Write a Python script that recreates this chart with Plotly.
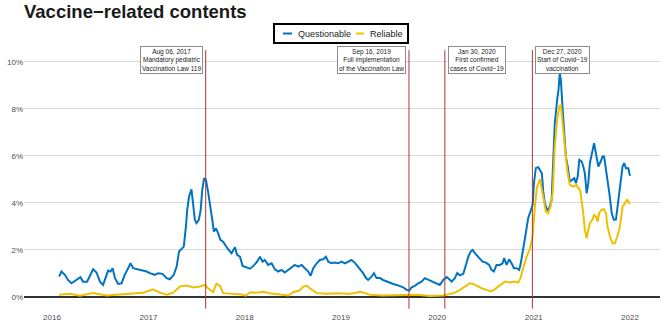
import plotly.graph_objects as go

# Questionable sources, share of contents (%)
q_dates = [
    "2016-01-28", "2016-02-06", "2016-02-19", "2016-03-02", "2016-03-15", "2016-04-03", "2016-04-18",
    "2016-04-28", "2016-05-13", "2016-05-26", "2016-06-05", "2016-06-18", "2016-07-01", "2016-07-13",
    "2016-07-23", "2016-08-01", "2016-08-10", "2016-08-18", "2016-08-27", "2016-09-08", "2016-09-21",
    "2016-10-03", "2016-10-16", "2016-10-25", "2016-11-04", "2016-11-19", "2016-12-06", "2016-12-25",
    "2017-01-06", "2017-01-25", "2017-02-07", "2017-02-23", "2017-03-11", "2017-03-23", "2017-04-07",
    "2017-04-18", "2017-04-27", "2017-05-06", "2017-05-15", "2017-05-23", "2017-05-28", "2017-06-04",
    "2017-06-13", "2017-06-19", "2017-06-26", "2017-07-02", "2017-07-11", "2017-07-18", "2017-07-24",
    "2017-07-31", "2017-08-07", "2017-08-15", "2017-08-22", "2017-08-31", "2017-09-06", "2017-09-14",
    "2017-09-22", "2017-10-01", "2017-10-11", "2017-10-22", "2017-10-30", "2017-11-12", "2017-11-25",
    "2017-12-03", "2017-12-14", "2017-12-24", "2018-01-08", "2018-01-21", "2018-02-05", "2018-02-17",
    "2018-02-28", "2018-03-10", "2018-03-18", "2018-03-31", "2018-04-13", "2018-04-25", "2018-05-08",
    "2018-05-21", "2018-06-02", "2018-06-15", "2018-06-28", "2018-07-10", "2018-07-23", "2018-08-05",
    "2018-08-17", "2018-08-30", "2018-09-08", "2018-09-18", "2018-10-01", "2018-10-13", "2018-10-26",
    "2018-11-05", "2018-11-14", "2018-11-26", "2018-12-09", "2018-12-22", "2019-01-03", "2019-01-16",
    "2019-01-29", "2019-02-10", "2019-02-23", "2019-03-07", "2019-03-14", "2019-03-26", "2019-04-06",
    "2019-04-14", "2019-04-27", "2019-05-06", "2019-05-16", "2019-05-29", "2019-06-10", "2019-06-23",
    "2019-07-06", "2019-07-18", "2019-07-31", "2019-08-13", "2019-08-25", "2019-09-07", "2019-09-17",
    "2019-09-26", "2019-10-08", "2019-10-21", "2019-11-03", "2019-11-15", "2019-11-24", "2019-12-04",
    "2019-12-17", "2019-12-30", "2020-01-11", "2020-01-24", "2020-02-06", "2020-02-16", "2020-02-25",
    "2020-03-08", "2020-03-17", "2020-03-27", "2020-04-09", "2020-04-19", "2020-04-28", "2020-05-07",
    "2020-05-14", "2020-05-23", "2020-06-01", "2020-06-11", "2020-06-21", "2020-07-04", "2020-07-16",
    "2020-07-25", "2020-08-03", "2020-08-13", "2020-08-26", "2020-09-05", "2020-09-11", "2020-09-20",
    "2020-09-30", "2020-10-09", "2020-10-18", "2020-10-28", "2020-11-07", "2020-11-13", "2020-11-22",
    "2020-12-02", "2020-12-11", "2020-12-20", "2020-12-28", "2021-01-02", "2021-01-09", "2021-01-18",
    "2021-01-27", "2021-02-01", "2021-02-06", "2021-02-12", "2021-02-21", "2021-03-01", "2021-03-10",
    "2021-03-16", "2021-03-22", "2021-03-31", "2021-04-05", "2021-04-10", "2021-04-14", "2021-04-21",
    "2021-04-27", "2021-05-03", "2021-05-10", "2021-05-18", "2021-05-27", "2021-06-04", "2021-06-10",
    "2021-06-17", "2021-06-23", "2021-07-02", "2021-07-08", "2021-07-14", "2021-07-21", "2021-07-27",
    "2021-08-02", "2021-08-11", "2021-08-18", "2021-08-25", "2021-09-03", "2021-09-12", "2021-09-19",
    "2021-09-25", "2021-10-05", "2021-10-15", "2021-10-24", "2021-11-01", "2021-11-09", "2021-11-15",
    "2021-11-24", "2021-12-04", "2021-12-10", "2021-12-17", "2021-12-26", "2022-01-01",
]
q_vals = [
    0.86, 1.08, 0.94, 0.72, 0.58, 0.72, 0.84,
    0.65, 0.65, 0.94, 1.18, 1.04, 0.65, 0.51,
    0.80, 1.12, 1.08, 1.22, 0.80, 0.55, 0.58,
    0.94, 1.22, 1.43, 1.22, 1.18, 1.15, 1.08,
    1.01, 0.94, 1.01, 0.98, 0.80, 0.75, 0.94,
    1.29, 1.93, 2.03, 2.14, 2.99, 3.70, 4.27,
    4.58, 3.99, 3.28, 3.14, 3.28, 3.70, 4.55,
    5.05, 4.98, 4.48, 3.84, 3.28, 2.78, 2.92,
    2.71, 2.43, 2.35, 2.14, 2.03, 1.86, 2.11,
    1.79, 1.71, 1.32, 1.26, 1.20, 1.34, 1.50,
    1.71, 1.50, 1.57, 1.36, 1.43, 1.18, 1.08,
    1.15, 1.04, 1.15, 1.22, 1.36, 1.29, 1.36,
    1.22, 1.08, 0.90, 1.22, 1.43, 1.57, 1.60,
    1.71, 1.50, 1.43, 1.46, 1.43, 1.50, 1.43,
    1.50, 1.57, 1.45, 1.29, 1.18, 1.01, 0.80,
    0.72, 0.86, 1.01, 0.80, 0.80, 0.72, 0.65,
    0.58, 0.55, 0.51, 0.47, 0.41, 0.30, 0.27,
    0.41, 0.47, 0.58, 0.65, 0.80, 0.75, 0.72,
    0.65, 0.55, 0.51, 0.72, 0.84, 0.75, 0.65,
    0.80, 1.01, 0.92, 0.98, 1.36, 1.71, 1.93,
    2.00, 1.86, 1.74, 1.60, 1.50, 1.46, 1.36,
    1.15, 1.08, 1.36, 1.36, 1.43, 1.65, 1.36,
    1.60, 1.43, 1.22, 1.22, 1.15, 1.43, 2.14,
    2.71, 3.35, 3.63, 3.91, 4.84, 5.48, 5.52,
    5.33, 5.26, 4.50, 3.99, 3.70, 3.77, 4.13,
    5.55, 7.39, 8.38, 8.81, 9.52, 9.23, 7.96,
    6.97, 5.97, 5.55, 4.91, 4.98, 5.05, 4.84,
    5.12, 5.83, 5.76, 5.55, 5.26, 4.41, 4.84,
    5.69, 6.11, 6.54, 6.11, 5.55, 5.76, 5.97,
    5.97, 5.26, 4.41, 3.56, 3.28, 3.30, 3.84,
    4.69, 5.55, 5.69, 5.48, 5.48, 5.15,
]

# Reliable sources, share of contents (%)
r_dates = [
    "2016-01-28", "2016-03-09", "2016-04-16", "2016-06-05", "2016-07-26", "2016-09-14", "2016-11-04",
    "2016-12-12", "2017-01-19", "2017-02-13", "2017-03-11", "2017-04-05", "2017-04-30", "2017-05-25",
    "2017-06-20", "2017-07-15", "2017-08-03", "2017-08-15", "2017-09-03", "2017-09-16", "2017-09-29",
    "2017-10-11", "2017-11-18", "2017-12-20", "2018-01-05", "2018-01-21", "2018-02-15", "2018-03-12",
    "2018-04-06", "2018-05-02", "2018-05-27", "2018-06-15", "2018-07-04", "2018-07-29", "2018-08-11",
    "2018-08-24", "2018-09-05", "2018-10-01", "2018-11-07", "2018-12-15", "2019-01-22", "2019-02-04",
    "2019-03-01", "2019-03-14", "2019-04-02", "2019-04-21", "2019-06-09", "2019-08-13", "2019-10-15",
    "2019-12-04", "2020-01-24", "2020-02-18", "2020-03-08", "2020-03-27", "2020-04-15", "2020-05-04",
    "2020-05-17", "2020-05-30", "2020-06-17", "2020-07-06", "2020-07-22", "2020-08-07", "2020-08-26",
    "2020-09-14", "2020-10-03", "2020-10-22", "2020-11-03", "2020-11-12", "2020-11-22", "2020-12-05",
    "2020-12-18", "2020-12-28", "2021-01-06", "2021-01-14", "2021-01-25", "2021-02-01", "2021-02-09",
    "2021-02-16", "2021-02-25", "2021-03-06", "2021-03-14", "2021-03-22", "2021-03-31", "2021-04-08",
    "2021-04-14", "2021-04-21", "2021-04-30", "2021-05-08", "2021-05-18", "2021-05-31", "2021-06-13",
    "2021-06-19", "2021-06-26", "2021-07-02", "2021-07-08", "2021-07-14", "2021-07-21", "2021-07-27",
    "2021-08-02", "2021-08-11", "2021-08-18", "2021-08-25", "2021-09-01", "2021-09-06", "2021-09-15",
    "2021-09-24", "2021-10-02", "2021-10-08", "2021-10-17", "2021-10-27", "2021-11-05", "2021-11-14",
    "2021-11-24", "2021-12-04", "2021-12-13", "2021-12-22", "2022-01-01",
]
r_vals = [
    0.09, 0.13, 0.05, 0.17, 0.06, 0.09, 0.14,
    0.18, 0.32, 0.18, 0.09, 0.18, 0.44, 0.48,
    0.40, 0.44, 0.52, 0.37, 0.20, 0.56, 0.47,
    0.16, 0.13, 0.10, 0.05, 0.20, 0.18, 0.22,
    0.16, 0.12, 0.09, 0.06, 0.20, 0.28, 0.44,
    0.48, 0.37, 0.16, 0.13, 0.16, 0.13, 0.13,
    0.18, 0.23, 0.16, 0.09, 0.06, 0.06, 0.09,
    0.04, 0.06, 0.13, 0.18, 0.30, 0.44, 0.58,
    0.55, 0.47, 0.37, 0.30, 0.23, 0.33, 0.51,
    0.65, 0.61, 0.65, 0.61, 0.80, 1.22, 1.71,
    2.07, 2.57, 3.90, 4.70, 5.01, 4.55, 3.99,
    3.63, 3.56, 3.84, 4.41, 6.40, 7.53, 8.10,
    8.17, 7.39, 6.26, 5.40, 4.77, 4.69, 4.77,
    4.62, 4.55, 4.13, 3.56, 2.85, 2.50, 2.85,
    3.14, 3.28, 3.49, 3.42, 3.20, 3.56, 3.70,
    3.73, 3.56, 2.99, 2.57, 2.28, 2.28, 2.57,
    2.99, 3.84, 3.99, 4.13, 3.96,
]

event_dates = ["2017-08-06", "2019-09-16", "2020-01-30", "2020-12-27"]
event_labels = [
    "Aug 06, 2017<br>Mandatory pediatric<br>Vaccination Law 119",
    "Sep 16, 2019<br>Full implementation<br>of the Vaccination Law",
    "Jan 30, 2020<br>First confirmed<br>cases of Covid\u221219",
    "Dec 27, 2020<br>Start of Covid\u221219<br>vaccination",
]
event_side = ["right", "right", "left", "left"]

year_ticks = ["2016-01-01", "2017-01-01", "2018-01-01", "2019-01-01",
              "2020-01-01", "2021-01-01", "2022-01-01"]
year_labels = ["2016", "2017", "2018", "2019", "2020", "2021", "2022"]
pct_ticks = [0, 2, 4, 6, 8, 10]
pct_labels = ["0%", "2%", "4%", "6%", "8%", "10%"]

series_names = ["Questionable", "Reliable"]
series_colors = ["#0073C2", "#EFC000"]

FONT = "Liberation Sans, Arial, sans-serif"

fig = go.Figure()
fig.add_trace(go.Scatter(x=q_dates, y=q_vals, mode="lines", name=series_names[0],
                         line=dict(color=series_colors[0], width=2)))
fig.add_trace(go.Scatter(x=r_dates, y=r_vals, mode="lines", name=series_names[1],
                         line=dict(color=series_colors[1], width=2)))

for d, lab, side in zip(event_dates, event_labels, event_side):
    fig.add_shape(type="line", x0=d, x1=d, y0=-0.5, y1=10.5, xref="x", yref="y",
                  line=dict(color="#b03535", width=1), layer="above")
    fig.add_annotation(x=d, y=1, xref="x", yref="paper", text=lab, showarrow=False,
                       xanchor="right" if side == "right" else "left", yanchor="top",
                       xshift=-3 if side == "right" else 3, yshift=-1,
                       font=dict(family=FONT, size=6.5, color="#222"),
                       bgcolor="white", bordercolor="#8c8c8c", borderwidth=1, borderpad=1)

# hand-made legend box above the plot (plotly's own legend is too wide)
fig.add_shape(type="rect", xref="paper", yref="paper", x0=0.3931, x1=0.6038, y0=1.0075, y1=1.0789,
              line=dict(color="black", width=2), fillcolor="white", layer="above")
leg_x = [(0.4072, 0.4214, 0.4277), (0.5220, 0.5346, 0.5409)]
for (a, b, t), name, col in zip(leg_x, series_names, series_colors):
    fig.add_shape(type="line", xref="paper", yref="paper", x0=a, x1=b, y0=1.0432, y1=1.0432,
                  line=dict(color=col, width=2), layer="above")
    fig.add_annotation(x=t, y=1.0432, xref="paper", yref="paper", text=name, showarrow=False,
                       xanchor="left", yanchor="middle",
                       font=dict(family=FONT, size=9, color="#1a1a1a"))

fig.update_layout(
    width=664, height=333,
    margin=dict(l=24, r=4, t=45, b=22),
    paper_bgcolor="white", plot_bgcolor="white",
    font=dict(family=FONT, size=8, color="#4d4d4d"),
    title=dict(text="<b>Vaccine\u2212related contents</b>", x=24 / 664, xref="container",
               xanchor="left", y=1 - 12 / 333, yref="container", yanchor="middle",
               font=dict(family=FONT, size=18.5, color="#1a1a1a")),
    showlegend=False,
)
fig.update_xaxes(range=["2015-09-17", "2022-04-25"], tickvals=year_ticks, ticktext=year_labels,
                 showgrid=False, zeroline=False, showline=False, ticks="")
fig.update_yaxes(range=[-0.6, 10.72], tickvals=pct_ticks, ticktext=pct_labels,
                 showgrid=True, gridcolor="#d9d9d9", gridwidth=1,
                 zeroline=True, zerolinecolor="#333333", zerolinewidth=2,
                 showline=False, ticks="")

# the page's default body margin would shift the whole figure by 8px
fig.write_html("out.html", config={"displayModeBar": False},
               post_script="document.body.style.margin='0px';")
